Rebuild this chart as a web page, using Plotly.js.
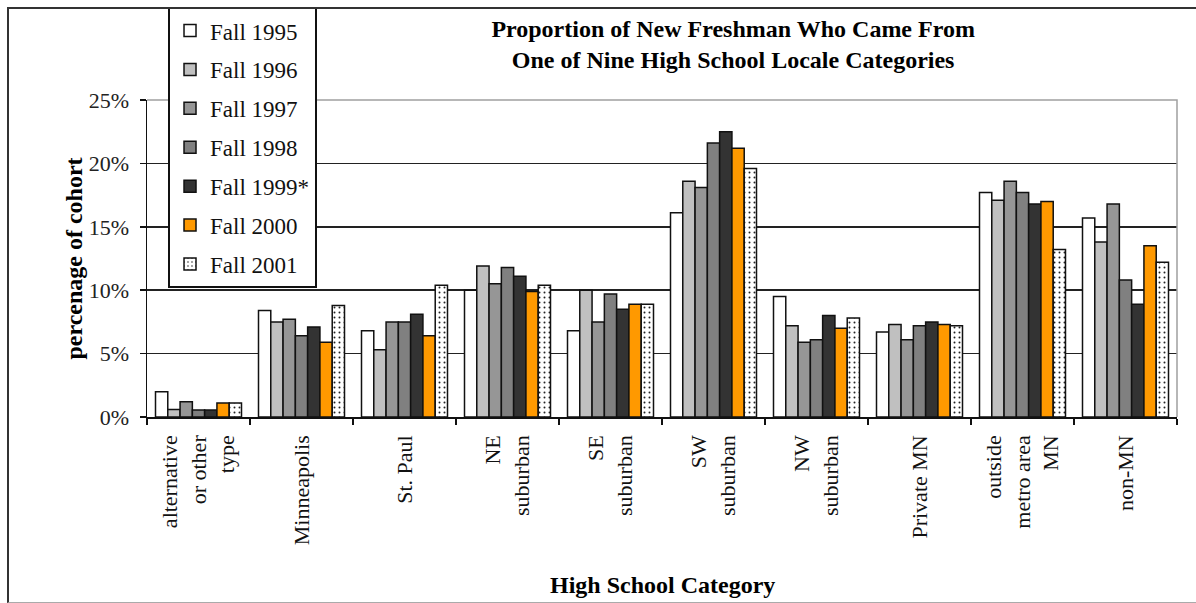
<!DOCTYPE html>
<html>
<head>
<meta charset="utf-8">
<script src="https://cdn.plot.ly/plotly-3.0.1.min.js"></script>
<style>
  html, body { margin: 0; padding: 0; background: #fff; }
  #wrap { position: relative; width: 1196px; height: 603px; overflow: hidden; }
  #chart { position: absolute; left: 0; top: 0; width: 1196px; height: 603px; }
  #frame { position: absolute; left: 7px; top: 7px; width: 1300px; height: 593px;
           border-left: 2px solid #333; border-top: 2px solid #333; border-bottom: 1px solid #aaa;
           pointer-events: none; }
</style>
</head>
<body>
<div id="wrap">
  <div id="chart"></div>
  <div id="frame"></div>
</div>
<script>
const categories = ["alternative or other type", "Minneapolis", "St. Paul", "NE suburban", "SE suburban",
                    "SW suburban", "NW suburban", "Private MN", "outside metro area MN", "non-MN"];
const tickLabels = ["alternative<br>or other<br>type", "Minneapolis", "St. Paul", "NE<br>suburban", "SE<br>suburban",
                    "SW<br>suburban", "NW<br>suburban", "Private MN", "outside<br>metro area<br>MN", "non-MN"];
const seriesNames = ["Fall 1995", "Fall 1996", "Fall 1997", "Fall 1998", "Fall 1999*", "Fall 2000", "Fall 2001"];
const fall1995 = [2.0, 8.4, 6.8, 10.0, 6.8, 16.1, 9.5, 6.7, 17.7, 15.7];
const fall1996 = [0.6, 7.5, 5.3, 11.9, 10.0, 18.6, 7.2, 7.3, 17.1, 13.8];
const fall1997 = [1.2, 7.7, 7.5, 10.5, 7.5, 18.1, 5.9, 6.1, 18.6, 16.8];
const fall1998 = [0.55, 6.4, 7.5, 11.8, 9.7, 21.6, 6.1, 7.2, 17.7, 10.8];
const fall1999 = [0.55, 7.1, 8.1, 11.1, 8.5, 22.5, 8.0, 7.5, 16.8, 8.9];
const fall2000 = [1.1, 5.9, 6.4, 9.9, 8.9, 21.2, 7.0, 7.3, 17.0, 13.5];
const fall2001 = [1.1, 8.8, 10.4, 10.4, 8.9, 19.6, 7.8, 7.2, 13.2, 12.2];
const yTicks = [0, 5, 10, 15, 20, 25];
const yTickLabels = ["0%", "5%", "10%", "15%", "20%", "25%"];

const seriesValues = [fall1995, fall1996, fall1997, fall1998, fall1999, fall2000, fall2001];
const fills = ["#ffffff", "#c0c0c0", "#969696", "#808080", "#333333", "#ff9900", "#ffffff"];

const traces = seriesValues.map((vals, i) => {
  const marker = { color: fills[i], line: { color: "#111", width: 1.5 } };
  if (i === 6) {
    marker.pattern = { shape: ".", fgcolor: "#222", bgcolor: "#ffffff", size: 5, solidity: 0.12 };
  }
  return {
    type: "bar", name: seriesNames[i], x: categories, y: vals,
    marker: marker, legendgroup: "g" + i, hoverinfo: "name+y"
  };
});

const serif = "Liberation Serif, Times New Roman, serif";

const layout = {
  width: 1196, height: 603,
  margin: { l: 147, r: 19, t: 100, b: 186, autoexpand: false },
  paper_bgcolor: "rgba(0,0,0,0)", plot_bgcolor: "#ffffff",
  barmode: "group", bargap: 0.165, bargroupgap: 0,
  font: { family: serif, color: "#111" },
  title: {
    text: "<b>Proportion of New Freshman Who Came From<br>One of Nine High School Locale Categories</b>",
    font: { family: serif, size: 24, color: "#000" },
    x: 0.613, xref: "container", xanchor: "center",
    y: 1 - 37 / 603, yref: "container", yanchor: "middle"
  },
  xaxis: {
    type: "category", tickvals: categories, ticktext: tickLabels,
    tickangle: -90, tickson: "boundaries", ticks: "outside", ticklen: 6, tickwidth: 1.5, tickcolor: "#111",
    showline: true, linecolor: "#111", linewidth: 1.5, showgrid: false,
    tickfont: { family: serif, size: 22, color: "#111" },
    ticklabelstandoff: 8,
    automargin: false
  },
  yaxis: {
    range: [0, 25], tickvals: yTicks, ticktext: yTickLabels,
    ticks: "outside", ticklen: 6, tickwidth: 1.5, tickcolor: "#111",
    showline: true, linecolor: "#111", linewidth: 1.5,
    showgrid: true, gridcolor: "#222", gridwidth: 1.5, zeroline: false,
    tickfont: { family: serif, size: 22, color: "#222" },
    ticklabelstandoff: 6,
    title: { text: "<b>percenage of cohort</b>", font: { family: serif, size: 24, color: "#000" } },
    automargin: false
  },
  legend: {
    x: 0.0204, xanchor: "left", y: 1.293, yanchor: "top",
    bgcolor: "#ffffff", bordercolor: "#111", borderwidth: 2,
    font: { family: serif, size: 23, color: "#111" },
    traceorder: "grouped", tracegroupgap: 6, itemwidth: 30
  },
  annotations: [{
    text: "<b>High School Category</b>", xref: "paper", yref: "paper",
    x: 0.5, y: -0.53, xanchor: "center", yanchor: "middle", showarrow: false,
    font: { family: serif, size: 24, color: "#000" }
  }],
  shapes: [{
    type: "path", xref: "paper", yref: "paper", path: "M0,1 L1,1 L1,0",
    line: { color: "#a0a0a0", width: 1.5 }, layer: "above"
  }]
};

Plotly.newPlot("chart", traces, layout, { displayModeBar: false, staticPlot: true });
</script>
</body>
</html>
